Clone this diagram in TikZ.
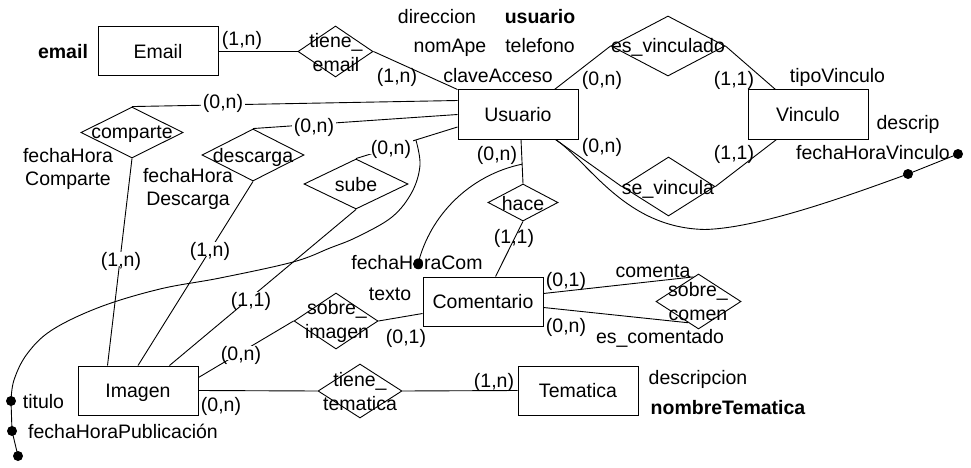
\documentclass[tikz,border=0pt]{standalone}
\usepackage{fontspec}
\setmainfont{Liberation Sans}
\usetikzlibrary{shapes.geometric,calc}
\begin{document}
\begin{tikzpicture}[x=1pt,y=-1pt,
  every node/.style={font=\fontsize{19.5}{23.5}\selectfont},
  ent/.style={draw, line width=1pt, minimum width=120pt, minimum height=49pt, inner sep=0, text height=14pt, text depth=0pt},
  rel/.style={draw, diamond, line width=0.9pt, inner sep=0},
  lbl/.style={inner sep=0, text height=14pt, text depth=0pt},
  dlbl/.style={inner sep=0, align=center},
  card/.style={lbl, fill=white, inner xsep=1.5pt},
  ln/.style={line width=0.9pt},
  blob/.style={fill=black}
]
\useasboundingbox (0,0) rectangle (971,468);

% entities
\node[ent] (em)  at (158,51.5)  {Email};
\node[ent] (usr) at (518,114.5) {Usuario};
\node[ent] (vin) at (808,114.5) {Vinculo};
\node[ent] (cmt) at (483,301.5) {Comentario};
\node[ent] (img) at (138,390.5) {Imagen};
\node[ent] (tem) at (578,390.5) {Tematica};

% relationships
\node[rel, minimum width=75pt,  minimum height=51pt] (te)  at (335.5,51.5) {};
\node[rel, minimum width=114pt, minimum height=60pt] (ev)  at (668,46)     {};
\node[rel, minimum width=93pt,  minimum height=59pt] (sv)  at (668.5,186.5) {};
\node[rel, minimum width=102pt, minimum height=51pt] (cmp) at (132,132.5)  {};
\node[rel, minimum width=102pt, minimum height=52pt] (ds)  at (253,155)    {};
\node[rel, minimum width=104pt, minimum height=50pt] (sb)  at (356,184)    {};
\node[rel, minimum width=70pt,  minimum height=37pt] (hc)  at (523,202.5)  {};
\node[rel, minimum width=84pt,  minimum height=56pt] (si)  at (336,321)    {};
\node[rel, minimum width=85pt,  minimum height=55pt] (sc)  at (698.5,301.5) {};
\node[rel, minimum width=84pt,  minimum height=54pt] (tt)  at (360,391)    {};

% connectors
\draw[ln] (em.east) -- (te.west);
\draw[ln] (te.east) -- (usr.north west);
\coordinate (uEV) at ([xshift=97pt]usr.north west);
\draw[ln] (uEV) -- (ev.west);
\draw[ln] (ev.east) -- ([xshift=28pt]vin.north west);
\coordinate (uSV) at ([xshift=-23pt]usr.south east);
\draw[ln] (uSV) -- (sv.west);
\draw[ln] (sv.east) -- ([xshift=29pt]vin.south west);
\coordinate (fhv1) at (908,174);
\coordinate (fhv2) at (958,154);
\draw[ln] (uSV) .. controls (590,163) and (625,228) .. (705,229.5) .. controls (760,228) and (850,195) .. (fhv1) -- (fhv2);

\coordinate (uH) at ([xshift=3pt]usr.south);
\draw[ln] (uH) -- (hc.north);
\draw[ln] (hc.south) -- ([xshift=73pt]cmt.north west);
\coordinate (hfork) at ($(uH)!0.56!(hc.north)$);
\coordinate (fhc) at (418,264);
\draw[ln] (hfork) .. controls (470,175) and (430,215) .. (fhc);

\draw[ln] ([yshift=-11pt]usr.north west) -- (cmp.north);
\draw[ln] (cmp.south) -- ([xshift=30pt]img.north west);
\draw[ln] (usr.west) -- (ds.north);
\draw[ln] (ds.south) -- (img.north);
\coordinate (uSB) at ([yshift=-12.5pt]usr.west);
\draw[ln] (uSB) -- (sb.north);
\draw[ln] (sb.south) -- ([xshift=92pt]img.north west);
\coordinate (sfork) at ($(uSB)!0.41!(sb.north)$);
\coordinate (tit) at (11,401);
\coordinate (fhp) at (12,431);
\coordinate (iend) at (18,456);
\draw[ln] plot[smooth, tension=0.6] coordinates {(sfork) (420,165) (412,192) (392,217) (357,237) (330,248) (293,262) (220,278) (160,289) (100,307) (52,330) (27,354) (14,380) (tit)};
\draw[ln] (tit) -- (fhp) -- (iend);

\draw[ln] ([yshift=-12pt]img.north east) -- (si.west);
\draw[ln] (si.east) -- ([yshift=-37pt]cmt.north west);
\draw[ln] (img.east) -- (tt.west);
\draw[ln] (tt.east) -- (tem.west);
\draw[ln] ([yshift=-17pt]cmt.north east) -- ($(sc.west)!0.88!(sc.north)$);
\draw[ln] ([yshift=-31pt]cmt.north east) -- ($(sc.west)!0.76!(sc.south)$);

% dots
\fill[blob] (fhv1) circle[radius=5pt];
\fill[blob] (fhv2) circle[radius=5pt];
\fill[blob] (tit) circle[radius=5pt];
\fill[blob] (fhp) circle[radius=5pt];
\fill[blob] (iend) circle[radius=5pt];

% relationship texts
\node[dlbl] (tet) at (336,52.5) {tiene\_\\email};
\node[lbl] (evt) at (668,46) {es\_vinculado};
\node[lbl] (svt) at (668,187) {se\_vincula};
\node[lbl] (cmpt) at (132,132) {comparte};
\node[lbl] (dst) at (253,155) {descarga};
\node[lbl] (sbt) at (356,184) {sube};
\node[lbl] (hct) at (523,203) {hace};
\node[dlbl] (sit) at (337,321.5) {sobre\_\\imagen};
\node[dlbl] (sct) at (698,301.5) {sobre\_\\comen};
\node[dlbl] (ttt) at (360,391.5) {tiene\_\\tematica};

% attributes
\node[lbl] (a1) at (63,52) {\bfseries email};
\node[lbl] (a2) at (437,17) {direccion};
\node[lbl] (a3) at (540,17) {\bfseries usuario};
\node[lbl] (a4) at (450,46) {nomApe};
\node[lbl] (a5) at (540,46) {telefono};
\node[lbl] (a6) at (498,76) {claveAcceso};
\node[lbl] (a7) at (837.5,76) {tipoVinculo};
\node[lbl] (a8) at (908,122) {descrip};
\node[lbl] (a9) at (873,152) {fechaHoraVinculo};
\node[dlbl] (a10) at (68,169) {fechaHora\\Comparte};
\node[dlbl] (a11) at (188,189) {fechaHora\\Descarga};
\node[lbl] (a12) at (417,262) {fechaHoraCom};
\node[lbl] (a13) at (390,293) {texto};
\node[lbl] (a14) at (653,270) {comenta};
\node[lbl] (a15) at (660,336) {es\_comentado};
\node[lbl] (a16) at (698,377) {descripcion};
\node[lbl] (a17) at (728,407) {\bfseries nombreTematica};
\node[lbl] (a18) at (43.5,401) {titulo};
\node[lbl] (a19) at (123,431) {fechaHoraPublicación};
\fill[blob] (fhc) circle[radius=5pt];

% cardinalities
\node[lbl] (c1) at (242,39) {(1,n)};
\node[lbl] (c2) at (397,76) {(1,n)};
\node[lbl] (c3) at (602,79) {(0,n)};
\node[lbl] (c4) at (734,79) {(1,1)};
\node[lbl] (c5) at (602,145) {(0,n)};
\node[lbl] (c6) at (734,152) {(1,1)};
\node[card] (c7) at (223,102) {(0,n)};
\node[card] (c8) at (314,125) {(0,n)};
\node[card] (c9) at (391,147) {(0,n)};
\node[lbl] (c10) at (497,153) {(0,n)};
\node[lbl] (c11) at (514,236) {(1,1)};
\node[card] (c12) at (121,259) {(1,n)};
\node[card] (c13) at (210,249) {(1,n)};
\node[card] (c14) at (251,299) {(1,1)};
\node[card] (c15) at (241,353) {(0,n)};
\node[lbl] (c16) at (406,336) {(0,1)};
\node[lbl] (c17) at (566,279) {(0,1)};
\node[lbl] (c18) at (566,325) {(0,n)};
\node[lbl] (c19) at (221,404) {(0,n)};
\node[lbl] (c20) at (494,380) {(1,n)};
\end{tikzpicture}
\end{document}
